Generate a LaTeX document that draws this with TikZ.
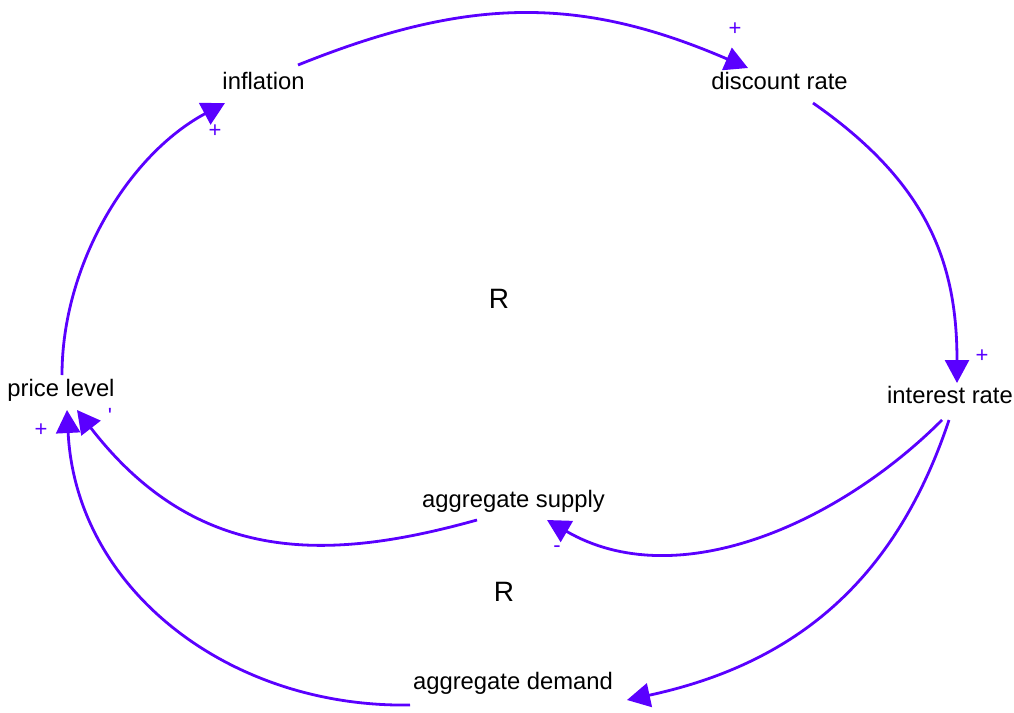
\documentclass[tikz,border=0pt]{standalone}
\usepackage{fontspec}
\setmainfont{Liberation Sans}
\usetikzlibrary{arrows.meta}
\definecolor{linkc}{RGB}{90,0,255}
\tikzset{
  lbl/.style={anchor=base, inner sep=0pt, text=black, font=\fontsize{23.8}{28}\selectfont},
  loopR/.style={anchor=base, inner sep=0pt, text=black, font=\fontsize{28}{32}\selectfont},
  pol/.style={inner sep=0pt, text=linkc, font=\fontsize{22}{25}\selectfont},
  link/.style={draw=linkc, line width=2.8pt, -{Triangle[length=23pt,width=24pt]}, fill=none},
}
\begin{document}
\begin{tikzpicture}[x=1pt,y=-1pt]
\useasboundingbox[fill=white] (0,0) rectangle (1014,712);
% variables
\node[lbl] (infl)  at (263.5,89)  {inflation};
\node[lbl] (disc)  at (779.5,89)  {discount rate};
\node[lbl] (intr)  at (950,403)   {interest rate};
\node[lbl] (price) at (61,396)    {price level};
\node[lbl] (sup)   at (513.5,507) {aggregate supply};
\node[lbl] (dem)   at (513,689)   {aggregate demand};
\node[loopR] (r1) at (499,308) {R};
\node[loopR] (r2) at (504,601) {R};
% links
\draw[link] ([shift={(34.5,-24)}]infl.base) .. controls +(169,-68) and +(-169,-73) .. ([shift={(-31.5,-21)}]disc.base);
\draw[link] ([shift={(33.5,14)}]disc.base) .. controls +(115,80) and +(0,-120) .. ([shift={(7,-20)}]intr.base);
\draw[link] ([shift={(-8,17)}]intr.base) .. controls +(-105,105) and +(129,75) .. ([shift={(33.5,13)}]sup.base);
\draw[link] ([shift={(-1,17)}]intr.base) .. controls +(-54,162) and +(167,-36) .. ([shift={(114,11)}]dem.base);
\draw[link] ([shift={(-36.5,13)}]sup.base) .. controls +(-144,40) and +(122,158) .. ([shift={(16,14)}]price.base);
\draw[link] ([shift={(-103,16)}]dem.base) .. controls +(-180,3) and +(9,180) .. ([shift={(6,14)}]price.base);
\draw[link] ([shift={(1,-21)}]price.base) .. controls +(0,-110) and +(-97,52) .. ([shift={(-38.5,14)}]infl.base);
% polarities
\node[pol] (p1) at (735,29)  {+};
\node[pol] (p2) at (982,356) {+};
\node[pol] (p3) at (557,549) {-};
\node[pol] (p5) at (110,416) {\textquotesingle};
\node[pol] (p6) at (41,430)  {+};
\node[pol] (p7) at (215,131) {+};
\end{tikzpicture}
\end{document}
